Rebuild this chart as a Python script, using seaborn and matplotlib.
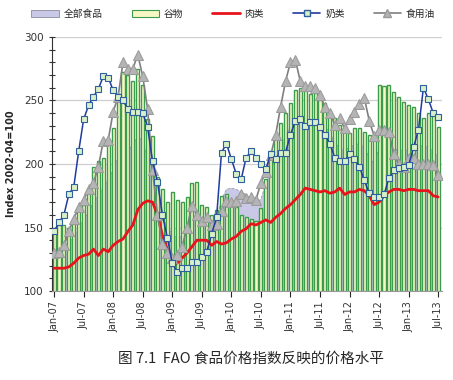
import numpy as np
import matplotlib
matplotlib.use("Agg")
import matplotlib.pyplot as plt
from matplotlib.patches import Patch
from matplotlib.lines import Line2D
from matplotlib.ticker import MultipleLocator
import seaborn as sns

# monthly values, Jan-07 .. Jul-13 (79 months)
food = [130, 133, 135, 138, 143, 150, 156, 162, 170, 176, 182, 188,
        195, 205, 212, 212, 214, 222, 218, 205, 195, 175, 160, 150,
        145, 142, 143, 148, 155, 160, 155, 158, 154, 158, 172, 180,
        181, 180, 178, 176, 172, 170, 172, 185, 195, 205, 212, 222,
        230, 237, 232, 233, 230, 232, 230, 230, 225, 216, 213, 211,
        213, 215, 216, 214, 205, 200, 213, 213, 216, 212, 211, 211,
        212, 213, 213, 215, 213, 211, 205]
cereals = [150, 152, 152, 150, 155, 165, 168, 180, 198, 202, 205, 215,
           228, 255, 272, 270, 265, 275, 262, 235, 222, 190, 180, 170,
           178, 172, 170, 174, 185, 186, 168, 166, 160, 164, 175, 176,
           170, 166, 160, 158, 157, 155, 165, 188, 210, 222, 232, 240,
           248, 258, 260, 259, 255, 256, 250, 248, 242, 236, 231, 228,
           224, 228, 228, 225, 223, 223, 262, 261, 262, 257, 253, 249,
           246, 245, 240, 236, 240, 239, 229]
meat = [118, 118, 118, 119, 122, 126, 128, 129, 133, 128, 133, 131,
        136, 139, 141, 147, 152, 164, 169, 171, 170, 160, 144, 133,
        122, 122, 126, 130, 135, 140, 140, 140, 136, 139, 137, 138,
        141, 143, 147, 149, 153, 152, 154, 156, 154, 158, 161, 165,
        168, 172, 176, 181, 180, 179, 178, 179, 177, 178, 181, 176,
        178, 178, 180, 179, 175, 168, 170, 175, 178, 180, 180, 179,
        180, 180, 179, 179, 179, 175, 174]
dairy = [147, 154, 160, 176, 182, 210, 235, 246, 253, 259, 269, 268,
         258, 253, 250, 243, 241, 241, 240, 229, 202, 186, 160, 142,
         122, 115, 118, 118, 123, 123, 127, 131, 145, 158, 209, 216,
         204, 192, 188, 205, 210, 205, 200, 196, 208, 204, 209, 209,
         223, 234, 235, 230, 233, 233, 229, 223, 216, 205, 202, 202,
         208, 204, 198, 187, 177, 174, 174, 176, 189, 195, 197, 198,
         199, 213, 227, 260, 251, 240, 237]
oils = [130, 131, 136, 147, 157, 166, 172, 180, 185, 198, 218, 219,
        241, 253, 280, 275, 275, 286, 269, 243, 195, 160, 137, 130,
        126, 128, 135, 150, 167, 160, 155, 158, 152, 153, 163, 171,
        170, 171, 176, 173, 174, 172, 185, 194, 207, 223, 245, 265,
        280, 282, 265, 261, 261, 260, 254, 245, 240, 231, 236, 228,
        235, 241, 247, 252, 234, 222, 227, 227, 225, 208, 200, 198,
        205, 205, 200, 200, 200, 199, 191]
tick_labels = ["Jan-07", "Jul-07", "Jan-08", "Jul-08", "Jan-09", "Jul-09",
               "Jan-10", "Jul-10", "Jan-11", "Jul-11", "Jan-12", "Jul-12",
               "Jan-13", "Jul-13"]

months = np.arange(len(cereals))

sns.set_style("white")
plt.rcParams["font.family"] = ["DejaVu Sans", "Noto Sans CJK SC"]

fig = plt.figure(figsize=(4.53, 3.8), dpi=100)
ax = fig.add_axes([0.115, 0.234, 0.861, 0.669])

# all food index as area behind the bars
ax.fill_between(months, food, 100, color="#C9C8E6", edgecolor="#9A9AB0",
                linewidth=0.6, linestyle="--", zorder=1)

# cereals as bars
sns.barplot(x=months, y=cereals, color="#F6F8C4", saturation=1,
            edgecolor="#3C9C4E", linewidth=1.0, width=0.62, ax=ax, zorder=2)

sns.lineplot(x=months, y=meat, color="#E8141C", linewidth=2, ax=ax, zorder=4)
sns.lineplot(x=months, y=oils, color="#7F7F7F", linewidth=1.2, marker="^",
             markersize=6.5, markerfacecolor="#B4B4B4", markeredgecolor="#9A9A9A",
             ax=ax, zorder=5)
sns.lineplot(x=months, y=dairy, color="#1F3C9E", linewidth=1.1, marker="s",
             markersize=4.5, markerfacecolor="#D8EFC8", markeredgecolor="#2F5F9F",
             markeredgewidth=0.8, ax=ax, zorder=6)

ax.set_xlim(-0.4, 78.8)
ax.set_ylim(100, 300)
ax.set_xticks(np.arange(0, 79, 6))
ax.set_xticklabels(tick_labels, rotation=90, fontsize=7, color="#333333")
ax.yaxis.set_major_locator(MultipleLocator(50))
ax.yaxis.set_minor_locator(MultipleLocator(10))
ax.tick_params(axis="y", which="both", direction="inout", length=5,
               width=0.8, labelsize=7.5, left=True, colors="#333333")
ax.tick_params(axis="x", direction="out", length=4, width=0.8, bottom=True)
ax.grid(axis="y", which="major", color="#CFCFCF", linewidth=0.9, zorder=0)
ax.set_axisbelow(True)
for side in ["top", "right"]:
    ax.spines[side].set_visible(False)
ax.spines["left"].set_color("#333333")
ax.spines["bottom"].set_color("#999999")
ax.set_xlabel("")
ax.set_ylabel("Index 2002-04=100", fontsize=7, fontweight="bold", labelpad=6)

handles = [
    Patch(facecolor="#C9C8E6", edgecolor="#8A8AA0", linewidth=0.6),
    Patch(facecolor="#F6F8C4", edgecolor="#3C9C4E", linewidth=0.8),
    Line2D([], [], color="#E8141C", linewidth=2),
    Line2D([], [], color="#1F3C9E", linewidth=1.2, marker="s", markersize=4.5,
           markerfacecolor="#D8EFC8", markeredgecolor="#2F5F9F"),
    Line2D([], [], color="#7F7F7F", linewidth=1.2, marker="^", markersize=6,
           markerfacecolor="#B4B4B4", markeredgecolor="#9A9A9A"),
]
labels = ["全部食品", "谷物", "肉类", "奶类", "食用油"]
fig.legend(handles, labels, loc="upper center", bbox_to_anchor=(0.515, 1.0),
           ncol=5, frameon=False, fontsize=7, handlelength=2.8,
           columnspacing=3.0, handletextpad=0.5)

fig.text(0.555, 0.057, "图 7.1  FAO 食品价格指数反映的价格水平",
         ha="center", va="center", fontsize=10.5,
         family=["Noto Sans CJK SC", "DejaVu Sans"])

fig.savefig("out.png", dpi=100)
